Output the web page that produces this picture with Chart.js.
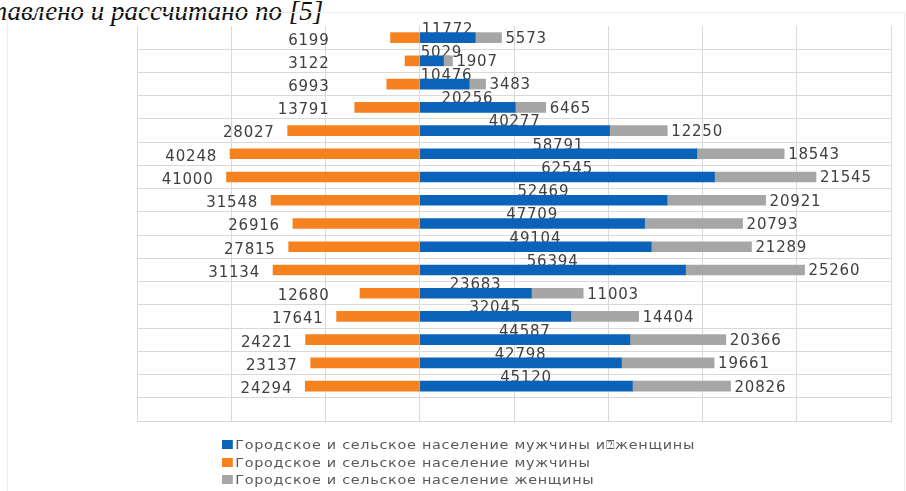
<!DOCTYPE html>
<html>
<head>
<meta charset="utf-8">
<script src="https://cdn.jsdelivr.net/npm/chart.js@4.4.0/dist/chart.umd.min.js"></script>
<style>
  body { margin: 0; background: #fff; width: 906px; height: 491px; overflow: hidden; position: relative; }
  #titre { position: absolute; left: -56px; top: -2px; font: italic 27px "Liberation Serif", serif; line-height: 27px; color: #111; white-space: nowrap; }
  #cadre { position: absolute; left: 7px; top: 12px; width: 896px; height: 490px; border: 1px solid #ececec; }
  #wrap { position: absolute; left: 0; top: 0; width: 906px; height: 491px; }
  #legende { position: absolute; left: 222px; top: 437px; font: 12px "DejaVu Sans", sans-serif; letter-spacing: 0.6px; color: #595959; transform: scaleX(1.2); transform-origin: 0 0; }
  #legende div { height: 17.5px; line-height: 17.5px; white-space: nowrap; }
  #legende span { display: inline-block; width: 9px; height: 9px; margin-right: 2px; }
</style>
</head>
<body>
<div id="titre">Составлено и рассчитано по [5]</div>
<div id="cadre"></div>
<div id="wrap"><canvas id="grafico" width="906" height="491"></canvas></div>
<div id="legende"></div>
<script>
// строки диаграммы (последняя пустая)
const categories = ['1','2','3','4','5','6','7','8','9','10','11','12','13','14','15','16',''];
// мужчины и женщины
const total = [11772, 5029, 10476, 20256, 40277, 58791, 62545, 52469, 47709, 49104, 56394, 23683, 32045, 44587, 42798, 45120, null];
// мужчины
const hommes = [6199, 3122, 6993, 13791, 28027, 40248, 41000, 31548, 26916, 27815, 31134, 12680, 17641, 24221, 23137, 24294, null];
// женщины
const femmes = [5573, 1907, 3483, 6465, 12250, 18543, 21545, 20921, 20793, 21289, 25260, 11003, 14404, 20366, 19661, 20826, null];

const nomes = [
    'Городское и сельское население мужчины и\u2370женщины',
    'Городское и сельское население мужчины',
    'Городское и сельское население женщины'
];
const cores = ['#0a63b8', '#f5821f', '#a6a6a6'];

// подписи значений
const rotulos = {
    id: 'rotulos',
    beforeDatasetsDraw(chart) {
        // подписи синих полос рисуются под полосами
        const ctx = chart.ctx;
        const meta = chart.getDatasetMeta(0);
        const x0 = chart.scales.x.getPixelForValue(0);
        ctx.save();
        ctx.font = '15px "DejaVu Sans"';
        ctx.letterSpacing = '0.8px';
        ctx.fillStyle = '#404040';
        ctx.textBaseline = 'middle';
        meta.data.forEach((bar, i) => {
            if (total[i] == null) return;
            const txt = String(total[i]);
            const w = ctx.measureText(txt).width;
            let x = (x0 + bar.x) / 2 - w / 2;
            if (x < x0 + 1) x = x0 + 1;
            ctx.textAlign = 'left';
            ctx.fillText(txt, x, bar.y - 8);
        });
        ctx.restore();
    },
    afterDatasetsDraw(chart) {
        const ctx = chart.ctx;
        const sx = chart.scales.x;
        const limite = sx.getPixelForValue(-20000) + 4;
        ctx.save();
        ctx.font = '15px "DejaVu Sans"';
        ctx.letterSpacing = '0.8px';
        ctx.fillStyle = '#404040';
        ctx.textBaseline = 'middle';
        // мужчины, слева
        chart.getDatasetMeta(1).data.forEach((bar, i) => {
            if (hommes[i] == null) return;
            ctx.textAlign = 'right';
            const x = Math.min(bar.x - 13, limite);
            ctx.fillText(String(hommes[i]), x, bar.y + 3);
        });
        // женщины, справа
        chart.getDatasetMeta(2).data.forEach((bar, i) => {
            if (femmes[i] == null) return;
            ctx.textAlign = 'left';
            ctx.fillText(String(femmes[i]), bar.x + 4, bar.y + 1.5);
        });
        ctx.restore();
    }
};

const ctx = document.getElementById('grafico').getContext('2d');
const grafico = new Chart(ctx, {
    type: 'bar',
    data: {
        labels: categories,
        datasets: [{
            label: nomes[0],
            data: total,
            backgroundColor: cores[0],
            barThickness: 10
        },
        {
            label: nomes[1],
            data: hommes.map(v => v == null ? null : -v),
            backgroundColor: cores[1],
            barThickness: 10
        },
        {
            label: nomes[2],
            data: femmes,
            backgroundColor: cores[2],
            barThickness: 10
        }]
    },
    options: {
        indexAxis: 'y',
        responsive: false,
        animation: false,
        layout: { padding: { left: 137, right: 15, top: 26, bottom: 70 } },
        plugins: {
            legend: { display: false },
            tooltip: { enabled: false }
        },
        scales: {
            x: {
                stacked: true,
                min: -60000,
                max: 100000,
                ticks: { display: false, stepSize: 20000 },
                grid: { color: '#d9d9d9', drawTicks: false },
                border: { display: true, color: '#d9d9d9' }
            },
            y: {
                stacked: true,
                ticks: { display: false },
                grid: {
                    color: c => c.index === 0 ? 'rgba(0,0,0,0)' : '#d9d9d9',
                    drawTicks: false
                },
                border: { display: true, color: '#d9d9d9' }
            }
        }
    },
    plugins: [rotulos]
});

// легенда
const leg = document.getElementById('legende');
grafico.data.datasets.forEach(ds => {
    const linha = document.createElement('div');
    linha.innerHTML = '<span style="background:' + ds.backgroundColor + '"></span>' + ds.label;
    leg.appendChild(linha);
});
</script>
</body>
</html>
